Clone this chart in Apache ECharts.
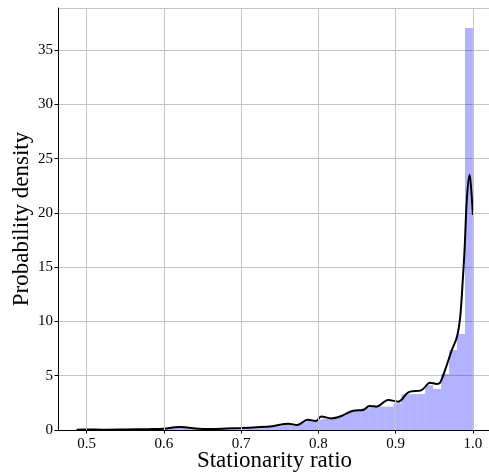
<!DOCTYPE html>
<html>
<head>
<meta charset="utf-8">
<script src="https://cdn.jsdelivr.net/npm/echarts@6/dist/echarts.min.js"></script>
<style>html,body{margin:0;padding:0;background:#fff}#c{width:489px;height:475px}</style>
</head>
<body>
<div id="c"></div>
<script>
// Histogram: 50 bins, start and width
const binStart = 0.486;
const binWidth = 0.01028;
const binHeights = [
  0.03, 0.02, 0.03, 0.02, 0.03, 0.04, 0.03, 0.05, 0.08, 0.10,
  0.12, 0.20, 0.35, 0.35, 0.20, 0.12, 0.10, 0.12, 0.14, 0.15,
  0.18, 0.20, 0.22, 0.25, 0.30, 0.35, 0.50, 0.45, 0.70, 0.85,
  0.95, 1.04, 1.17, 1.29, 1.69, 1.84, 2.00, 2.10, 2.15, 2.15,
  2.46, 3.30, 3.30, 3.32, 4.12, 3.78, 5.16, 7.37, 8.84, 37.03
];
// KDE curve
const kdeX = [0.487, 0.500, 0.520, 0.550, 0.580, 0.600, 0.612, 0.620, 0.630, 0.645, 0.660, 0.680, 0.700, 0.720, 0.740, 0.761, 0.773, 0.786, 0.797, 0.8036, 0.8166, 0.8296, 0.8449, 0.8579, 0.8661, 0.8752, 0.8904, 0.9034, 0.9164, 0.9337, 0.9445, 0.9532, 0.9575, 0.9640, 0.9727, 0.9792, 0.9835, 0.9866, 0.9892, 0.9922, 0.9957, 0.9974, 1.000];
const kdeY = [0.02, 0.04, 0.03, 0.05, 0.08, 0.12, 0.22, 0.28, 0.22, 0.12, 0.10, 0.13, 0.18, 0.25, 0.35, 0.58, 0.46, 0.95, 0.83, 1.25, 1.07, 1.29, 1.78, 1.84, 2.21, 2.15, 2.76, 2.61, 3.47, 3.68, 4.36, 4.24, 4.36, 5.53, 7.37, 8.54, 10.4, 13.5, 16.6, 21.3, 23.5, 22.5, 19.8];
const xTicks = [0.5, 0.6, 0.7, 0.8, 0.9, 1.0];
const yTicks = [0, 5, 10, 15, 20, 25, 30, 35];
const xMin = 0.4629, xMax = 1.0234, yMax = 38.87;

const histData = binHeights.map((h, i) => [binStart + i * binWidth, binStart + (i + 1) * binWidth, h]);
const kdeData = kdeX.map((x, i) => [x, kdeY[i]]);

const font = '"Liberation Serif", "DejaVu Serif", serif';
const gridColor = '#c4c4c4';
const chart = echarts.init(document.getElementById('c'), null, {renderer: 'canvas'});
chart.setOption({
  animation: false,
  grid: {left: 58, top: 8, right: -2, bottom: 45, containLabel: false, outerBoundsMode: 'none'},
  xAxis: [{
    type: 'value', min: xMin, max: xMax,
    name: 'Stationarity ratio', nameLocation: 'middle', nameGap: 19, nameMoveOverlap: false,
    nameTextStyle: {fontFamily: font, fontSize: 23, color: '#000'},
    axisLine: {show: true, onZero: false, lineStyle: {color: '#000', width: 1}},
    axisTick: {show: true, length: 3.5, customValues: xTicks, lineStyle: {color: '#000'}},
    axisLabel: {customValues: xTicks, fontFamily: font, fontSize: 15, color: '#000', margin: 7,
      formatter: v => v.toFixed(1)},
    splitLine: {show: false}
  }, {
    type: 'value', min: xMin, max: xMax, position: 'top',
    axisLine: {show: true, lineStyle: {color: '#000', width: 1}},
    axisTick: {show: false}, axisLabel: {show: false}, splitLine: {show: false}
  }],
  yAxis: {
    type: 'value', min: 0, max: yMax, interval: 5,
    name: 'Probability density', nameLocation: 'middle', nameGap: 25, nameMoveOverlap: false,
    nameTextStyle: {fontFamily: font, fontSize: 23, color: '#000'},
    axisLine: {show: true, lineStyle: {color: '#000', width: 1}},
    axisTick: {show: true, length: 3.5, lineStyle: {color: '#000'}},
    axisLabel: {fontFamily: font, fontSize: 15, color: '#000', margin: 5, showMaxLabel: false,
      formatter: v => (yTicks.indexOf(v) >= 0 ? String(v) : '')},
    splitLine: {show: true, lineStyle: {color: gridColor, width: 1}}
  },
  series: [{
    type: 'line', data: [], silent: true,
    markLine: {
      silent: true, symbol: 'none', label: {show: false},
      lineStyle: {color: gridColor, width: 1, type: 'solid'},
      data: xTicks.map(v => ({xAxis: v}))
    },
    z: 1
  }, {
    type: 'custom', z: 2,
    renderItem: (params, api) => {
      const p0 = api.coord([api.value(0), api.value(2)]);
      const p1 = api.coord([api.value(1), 0]);
      return {
        type: 'rect',
        shape: {x: p0[0], y: p0[1], width: p1[0] - p0[0], height: p1[1] - p0[1]},
        style: {fill: 'rgba(0,0,255,0.3)'}
      };
    },
    encode: {x: [0, 1], y: 2},
    data: histData
  }, {
    type: 'line', z: 3, data: kdeData, smooth: 0.35, showSymbol: false,
    lineStyle: {color: '#000', width: 2}
  }]
});
</script>
</body>
</html>
